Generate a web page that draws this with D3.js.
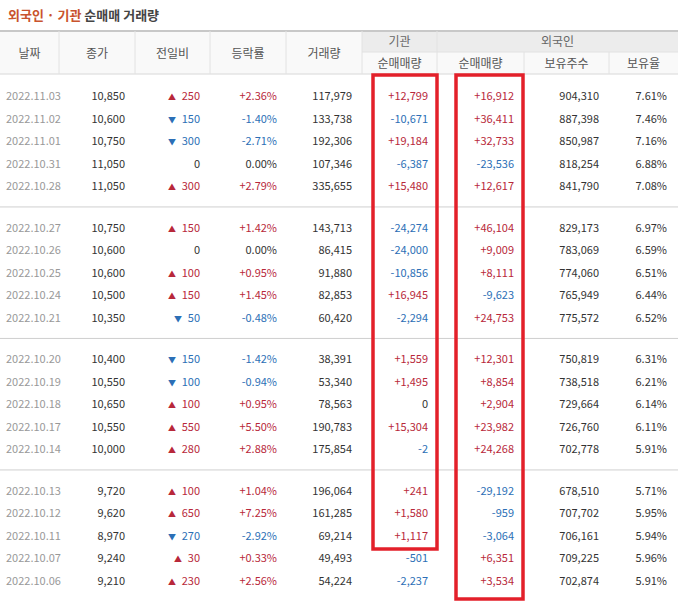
<!DOCTYPE html><html><head><meta charset="utf-8">
<script src="https://cdn.jsdelivr.net/npm/d3@7"></script>
<style>body{margin:0;background:#fff}svg text{font-family:"Noto Sans CJK KR","Noto Sans",sans-serif}</style></head><body>
<svg id="c" width="678" height="602"></svg>
<script>
const dates=["2022.11.03","2022.11.02","2022.11.01","2022.10.31","2022.10.28","2022.10.27","2022.10.26","2022.10.25","2022.10.24","2022.10.21","2022.10.20","2022.10.19","2022.10.18","2022.10.17","2022.10.14","2022.10.13","2022.10.12","2022.10.11","2022.10.07","2022.10.06"];
const closes=[10850,10600,10750,11050,11050,10750,10600,10600,10500,10350,10400,10550,10650,10550,10000,9720,9620,8970,9240,9210];
const changes=[250,-150,-300,0,300,150,0,100,150,-50,-150,-100,100,550,280,100,650,-270,30,230];
const rates=[2.36,-1.40,-2.71,0.00,2.79,1.42,0.00,0.95,1.45,-0.48,-1.42,-0.94,0.95,5.50,2.88,1.04,7.25,-2.92,0.33,2.56];
const volumes=[117979,133738,192306,107346,335655,143713,86415,91880,82853,60420,38391,53340,78563,190783,175854,196064,161285,69214,49493,54224];
const instNet=[12799,-10671,19184,-6387,15480,-24274,-24000,-10856,16945,-2294,1559,1495,0,15304,-2,241,1580,1117,-501,-2237];
const forNet=[16912,36411,32733,-23536,12617,46104,9009,8111,-9623,24753,12301,8854,2904,23982,24268,-29192,-959,-3064,6351,3534];
const holdings=[904310,887398,850987,818254,841790,829173,783069,774060,765949,775572,750819,738518,729664,726760,702778,678510,707702,706161,709225,702874];
const holdRatio=[7.61,7.46,7.16,6.88,7.08,6.97,6.59,6.51,6.44,6.52,6.31,6.21,6.14,6.11,5.91,5.71,5.95,5.94,5.96,5.91];

const RED="#b8283a",BLUE="#2c6fb6",TXT="#333";
const svg=d3.select("#c");
const fmt=v=>d3.format(",")(v).replace("−","-");
const edges=[0,59,135,210,286,362,437,524,609,678];
const x=d3.scaleOrdinal().domain(d3.range(10)).range(edges);
const t=svg.append("text").attr("x",8).attr("y",20).attr("font-size",13).attr("font-weight","bold");
t.append("tspan").attr("fill","#c9542e").text("외국인 · 기관 ");
t.append("tspan").attr("fill","#444").text("순매매 거래량");
const hTop=31,hMid=52,hBot=74;
svg.append("rect").attr("x",0).attr("y",hTop).attr("width",678).attr("height",hBot-hTop).attr("fill","#f9f9f9");
svg.append("rect").attr("x",x(5)).attr("y",hTop).attr("width",678-x(5)).attr("height",hMid-hTop).attr("fill","#ececec");
svg.append("line").attr("x1",0).attr("x2",678).attr("y1",hTop).attr("y2",hTop).attr("stroke","#c8c8c8").attr("stroke-width",2);
svg.append("line").attr("x1",x(5)).attr("x2",678).attr("y1",hMid).attr("y2",hMid).attr("stroke","#e2e2e2");
svg.append("line").attr("x1",0).attr("x2",678).attr("y1",hBot).attr("y2",hBot).attr("stroke","#d8d8d8");
[1,2,3,4,5].forEach(i=>svg.append("line").attr("x1",x(i)).attr("x2",x(i)).attr("y1",hTop).attr("y2",hBot).attr("stroke","#e2e2e2"));
[6,7,8].forEach(i=>svg.append("line").attr("x1",x(i)).attr("x2",x(i)).attr("y1",i==6?hTop:hMid).attr("y2",hBot).attr("stroke","#e2e2e2"));
const heads=["날짜","종가","전일비","등락률","거래량"];
heads.forEach((h,i)=>svg.append("text").attr("x",(x(i)+x(i+1))/2).attr("y",58).attr("text-anchor","middle").attr("font-size",12).attr("fill","#555").text(h));
svg.append("text").attr("x",(x(5)+x(6))/2).attr("y",46).attr("text-anchor","middle").attr("font-size",12).attr("fill","#666").text("기관");
svg.append("text").attr("x",(x(6)+678)/2).attr("y",46).attr("text-anchor","middle").attr("font-size",12).attr("fill","#666").text("외국인");
["순매매량","순매매량","보유주수","보유율"].forEach((h,k)=>{const i=5+k;svg.append("text").attr("x",(x(i)+x(i+1))/2).attr("y",68).attr("text-anchor","middle").attr("font-size",12).attr("fill","#555").text(h);});
const y=i=>96+i*22.6+Math.floor(i/5)*18.5;
const rowY=d3.range(dates.length).map(y);
[1,2,3].forEach(g=>{const ly=(y(g*5-1)+y(g*5))/2;svg.append("line").attr("x1",0).attr("x2",678).attr("y1",ly).attr("y2",ly).attr("stroke","#cfcfcf");});
const sgn=v=>v>0?"+"+fmt(v):fmt(v);
const col=v=>v>0?RED:v<0?BLUE:TXT;
const rows=svg.selectAll("g.r").data(dates).join("g").attr("transform",(d,i)=>`translate(0,${rowY[i]+4})`).attr("font-size",11);
rows.append("text").attr("x",6).attr("fill","#999").text(d=>d);
rows.append("text").attr("x",125).attr("text-anchor","end").attr("fill",TXT).text((d,i)=>fmt(closes[i]));
rows.append("text").attr("x",(d,i)=>172+(Math.abs(changes[i])<100?6:0)).attr("text-anchor","middle").attr("font-size",8).attr("fill",(d,i)=>col(changes[i])).text((d,i)=>changes[i]>0?"▲":changes[i]<0?"▼":"");
rows.append("text").attr("x",200).attr("text-anchor","end").attr("fill",(d,i)=>col(changes[i])).text((d,i)=>fmt(Math.abs(changes[i])));
rows.append("text").attr("x",277).attr("text-anchor","end").attr("fill",(d,i)=>col(rates[i])).text((d,i)=>(rates[i]>0?"+":"")+rates[i].toFixed(2)+"%");
rows.append("text").attr("x",352).attr("text-anchor","end").attr("fill",TXT).text((d,i)=>fmt(volumes[i]));
rows.append("text").attr("x",428).attr("text-anchor","end").attr("fill",(d,i)=>col(instNet[i])).text((d,i)=>sgn(instNet[i]));
rows.append("text").attr("x",514).attr("text-anchor","end").attr("fill",(d,i)=>col(forNet[i])).text((d,i)=>sgn(forNet[i]));
rows.append("text").attr("x",599).attr("text-anchor","end").attr("fill",TXT).text((d,i)=>fmt(holdings[i]));
rows.append("text").attr("x",667).attr("text-anchor","end").attr("fill",TXT).text((d,i)=>holdRatio[i].toFixed(2)+"%");
svg.append("rect").attr("x",373).attr("y",75).attr("width",64).attr("height",474).attr("fill","none").attr("stroke","#e3202a").attr("stroke-width",3.5);
svg.append("rect").attr("x",456).attr("y",75).attr("width",67).attr("height",524).attr("fill","none").attr("stroke","#e3202a").attr("stroke-width",3.5);
</script></body></html>
